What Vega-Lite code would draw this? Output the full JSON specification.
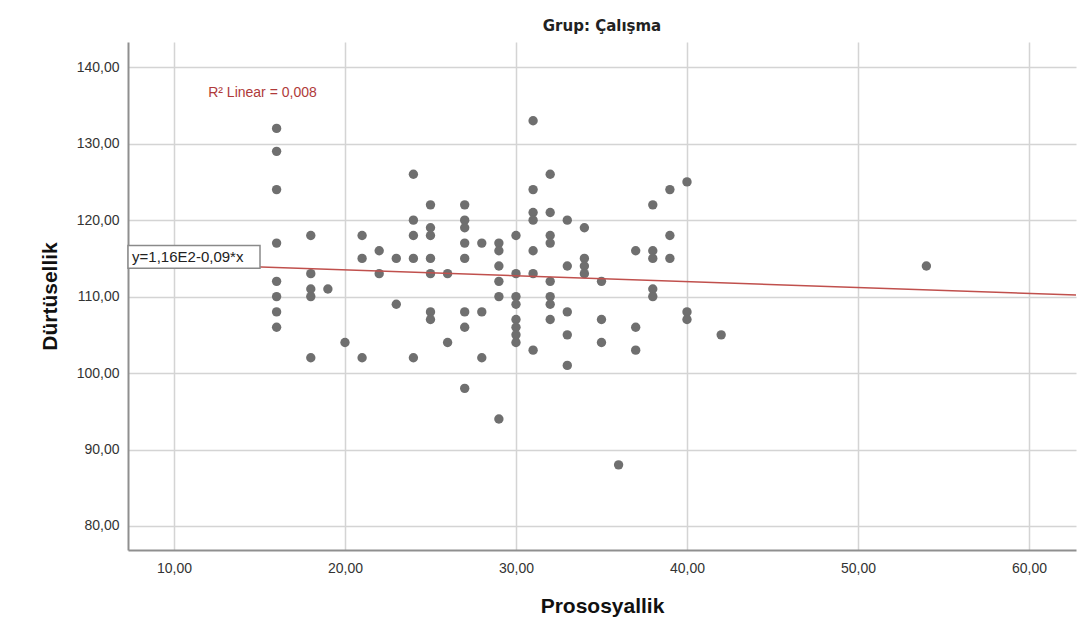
{
  "$schema": "https://vega.github.io/schema/vega-lite/v6.json",
  "width": 948,
  "height": 508,
  "autosize": "none",
  "padding": {"left": 128, "top": 42, "right": 10, "bottom": 85},
  "background": "white",
  "title": {"text": "Grup: Çalışma", "font": "DejaVu Sans", "fontSize": 15, "fontWeight": "bold", "color": "#222222", "offset": 8, "anchor": "middle"},
  "config": {
    "view": {"stroke": null},
    "axis": {
      "grid": true, "gridColor": "#d4d4d4", "gridWidth": 1.5,
      "domainColor": "#8f8f8f", "domainWidth": 2,
      "ticks": false,
      "labelFont": "Liberation Sans", "labelFontSize": 14, "labelColor": "#333333",
      "titleFont": "Liberation Sans", "titleFontSize": 21, "titleFontWeight": "bold", "titleColor": "#111111"
    }
  },
  "datasets": {
    "pts": [
      {"Prososyallik":16,"Durtusellik":132},{"Prososyallik":16,"Durtusellik":129},{"Prososyallik":16,"Durtusellik":124},{"Prososyallik":16,"Durtusellik":117},{"Prososyallik":16,"Durtusellik":112},{"Prososyallik":16,"Durtusellik":110},{"Prososyallik":16,"Durtusellik":108},{"Prososyallik":16,"Durtusellik":106},
      {"Prososyallik":18,"Durtusellik":118},{"Prososyallik":18,"Durtusellik":113},{"Prososyallik":18,"Durtusellik":111},{"Prososyallik":18,"Durtusellik":110},{"Prososyallik":18,"Durtusellik":102},
      {"Prososyallik":19,"Durtusellik":111},
      {"Prososyallik":20,"Durtusellik":104},
      {"Prososyallik":21,"Durtusellik":118},{"Prososyallik":21,"Durtusellik":115},{"Prososyallik":21,"Durtusellik":102},
      {"Prososyallik":22,"Durtusellik":116},{"Prososyallik":22,"Durtusellik":113},
      {"Prososyallik":23,"Durtusellik":115},{"Prososyallik":23,"Durtusellik":109},
      {"Prososyallik":24,"Durtusellik":126},{"Prososyallik":24,"Durtusellik":120},{"Prososyallik":24,"Durtusellik":118},{"Prososyallik":24,"Durtusellik":115},{"Prososyallik":24,"Durtusellik":102},
      {"Prososyallik":25,"Durtusellik":122},{"Prososyallik":25,"Durtusellik":119},{"Prososyallik":25,"Durtusellik":118},{"Prososyallik":25,"Durtusellik":115},{"Prososyallik":25,"Durtusellik":113},{"Prososyallik":25,"Durtusellik":108},{"Prososyallik":25,"Durtusellik":107},
      {"Prososyallik":26,"Durtusellik":113},{"Prososyallik":26,"Durtusellik":104},
      {"Prososyallik":27,"Durtusellik":122},{"Prososyallik":27,"Durtusellik":120},{"Prososyallik":27,"Durtusellik":119},{"Prososyallik":27,"Durtusellik":117},{"Prososyallik":27,"Durtusellik":115},{"Prososyallik":27,"Durtusellik":108},{"Prososyallik":27,"Durtusellik":106},{"Prososyallik":27,"Durtusellik":98},
      {"Prososyallik":28,"Durtusellik":117},{"Prososyallik":28,"Durtusellik":108},{"Prososyallik":28,"Durtusellik":102},
      {"Prososyallik":29,"Durtusellik":117},{"Prososyallik":29,"Durtusellik":116},{"Prososyallik":29,"Durtusellik":114},{"Prososyallik":29,"Durtusellik":112},{"Prososyallik":29,"Durtusellik":110},{"Prososyallik":29,"Durtusellik":94},
      {"Prososyallik":30,"Durtusellik":118},{"Prososyallik":30,"Durtusellik":113},{"Prososyallik":30,"Durtusellik":110},{"Prososyallik":30,"Durtusellik":109},{"Prososyallik":30,"Durtusellik":107},{"Prososyallik":30,"Durtusellik":106},{"Prososyallik":30,"Durtusellik":105},{"Prososyallik":30,"Durtusellik":104},
      {"Prososyallik":31,"Durtusellik":133},{"Prososyallik":31,"Durtusellik":124},{"Prososyallik":31,"Durtusellik":121},{"Prososyallik":31,"Durtusellik":120},{"Prososyallik":31,"Durtusellik":116},{"Prososyallik":31,"Durtusellik":113},{"Prososyallik":31,"Durtusellik":103},
      {"Prososyallik":32,"Durtusellik":126},{"Prososyallik":32,"Durtusellik":121},{"Prososyallik":32,"Durtusellik":118},{"Prososyallik":32,"Durtusellik":117},{"Prososyallik":32,"Durtusellik":112},{"Prososyallik":32,"Durtusellik":110},{"Prososyallik":32,"Durtusellik":109},{"Prososyallik":32,"Durtusellik":107},
      {"Prososyallik":33,"Durtusellik":120},{"Prososyallik":33,"Durtusellik":114},{"Prososyallik":33,"Durtusellik":108},{"Prososyallik":33,"Durtusellik":105},{"Prososyallik":33,"Durtusellik":101},
      {"Prososyallik":34,"Durtusellik":119},{"Prososyallik":34,"Durtusellik":115},{"Prososyallik":34,"Durtusellik":114},{"Prososyallik":34,"Durtusellik":113},
      {"Prososyallik":35,"Durtusellik":112},{"Prososyallik":35,"Durtusellik":107},{"Prososyallik":35,"Durtusellik":104},
      {"Prososyallik":36,"Durtusellik":88},
      {"Prososyallik":37,"Durtusellik":116},{"Prososyallik":37,"Durtusellik":106},{"Prososyallik":37,"Durtusellik":103},
      {"Prososyallik":38,"Durtusellik":122},{"Prososyallik":38,"Durtusellik":116},{"Prososyallik":38,"Durtusellik":115},{"Prososyallik":38,"Durtusellik":111},{"Prososyallik":38,"Durtusellik":110},
      {"Prososyallik":39,"Durtusellik":124},{"Prososyallik":39,"Durtusellik":118},{"Prososyallik":39,"Durtusellik":115},
      {"Prososyallik":40,"Durtusellik":125},{"Prososyallik":40,"Durtusellik":108},{"Prososyallik":40,"Durtusellik":107},
      {"Prososyallik":42,"Durtusellik":105},
      {"Prososyallik":54,"Durtusellik":114}
    ],
    "r2": [{"x": 12.0, "y": 136.6, "label": "R² Linear = 0,008"}],
    "eq": [{"x": 7.31, "x2": 15.03, "y": 113.7, "y2": 116.7, "tx": 7.55, "ty": 115.2, "label": "y=1,16E2-0,09*x"}]
  },
  "layer": [
    {
      "data": {"name": "pts"},
      "mark": {"type": "circle", "size": 88, "color": "#6f6f6f", "opacity": 1},
      "encoding": {
        "x": {"field": "Prososyallik", "type": "quantitative", "title": "Prososyallik",
              "scale": {"domain": [7.31, 62.75], "nice": false, "zero": false},
              "axis": {"values": [10, 20, 30, 40, 50, 60], "labelExpr": "replace(format(datum.value, '.2f'), '.', ',')", "labelPadding": 11, "titlePadding": 20}},
        "y": {"field": "Durtusellik", "type": "quantitative", "title": "Dürtüsellik",
              "scale": {"domain": [76.86, 143.3], "nice": false, "zero": false},
              "axis": {"values": [80, 90, 100, 110, 120, 130, 140], "labelExpr": "replace(format(datum.value, '.2f'), '.', ',')", "labelPadding": 9, "titlePadding": 16}}
      }
    },
    {
      "data": {"name": "pts"},
      "transform": [{"regression": "Durtusellik", "on": "Prososyallik", "extent": [7.31, 62.75]}],
      "mark": {"type": "line", "color": "#c0504d", "strokeWidth": 1.6},
      "encoding": {
        "x": {"field": "Prososyallik", "type": "quantitative"},
        "y": {"field": "Durtusellik", "type": "quantitative"}
      }
    },
    {
      "data": {"name": "eq"},
      "mark": {"type": "rect", "fill": "white", "stroke": "#8a8a8a", "strokeWidth": 1.5},
      "encoding": {
        "x": {"field": "x", "type": "quantitative"},
        "x2": {"field": "x2"},
        "y": {"field": "y", "type": "quantitative"},
        "y2": {"field": "y2"}
      }
    },
    {
      "data": {"name": "eq"},
      "mark": {"type": "text", "align": "left", "baseline": "middle", "font": "Liberation Sans", "fontSize": 15, "color": "#222222"},
      "encoding": {
        "x": {"field": "tx", "type": "quantitative"},
        "y": {"field": "ty", "type": "quantitative"},
        "text": {"field": "label"}
      }
    },
    {
      "data": {"name": "r2"},
      "mark": {"type": "text", "align": "left", "baseline": "middle", "font": "Liberation Sans", "fontSize": 14, "color": "#b03a3a"},
      "encoding": {
        "x": {"field": "x", "type": "quantitative"},
        "y": {"field": "y", "type": "quantitative"},
        "text": {"field": "label"}
      }
    }
  ]
}
